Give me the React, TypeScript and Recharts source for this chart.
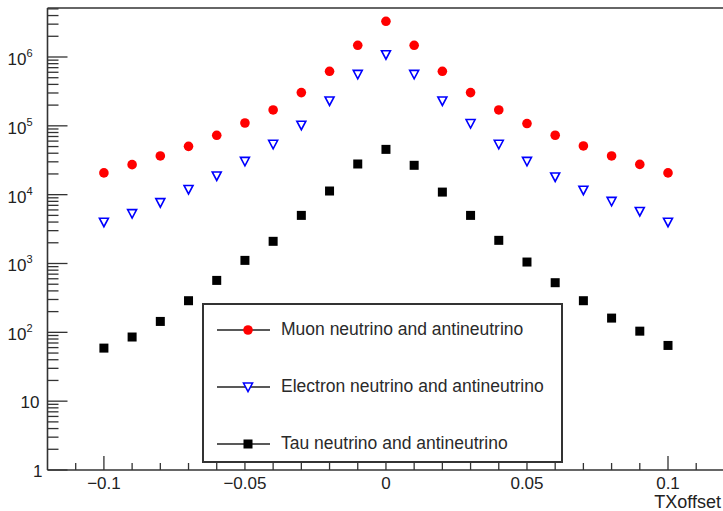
import { ScatterChart, Scatter, XAxis, YAxis, ReferenceLine, Legend, Label } from 'recharts';

const txOffset = [-0.1, -0.09, -0.08, -0.07, -0.06, -0.05, -0.04, -0.03, -0.02, -0.01, 0, 0.01, 0.02, 0.03, 0.04, 0.05, 0.06, 0.07, 0.08, 0.09, 0.1];
const muon = [2.07e4, 2.73e4, 3.65e4, 5.03e4, 7.28e4, 1.1e5, 1.7e5, 3.04e5, 6.2e5, 1.48e6, 3.3e6, 1.48e6, 6.2e5, 3.04e5, 1.7e5, 1.08e5, 7.3e4, 5.1e4, 3.65e4, 2.75e4, 2.07e4];
const electron = [3.98e3, 5.3e3, 7.65e3, 1.19e4, 1.87e4, 3.05e4, 5.4e4, 1.02e5, 2.3e5, 5.6e5, 1.08e6, 5.6e5, 2.3e5, 1.08e5, 5.4e4, 3.05e4, 1.81e4, 1.16e4, 8.0e3, 5.7e3, 3.98e3];
const tau = [59, 85.5, 144, 288, 568, 1110, 2100, 5000, 1.13e4, 2.79e4, 4.55e4, 2.67e4, 1.09e4, 5000, 2170, 1050, 526, 288, 161, 104, 64.5];

const seriesNames = ['Muon neutrino and antineutrino', 'Electron neutrino and antineutrino', 'Tau neutrino and antineutrino'];

const xTicks = [-0.11, -0.1, -0.09, -0.08, -0.07, -0.06, -0.05, -0.04, -0.03, -0.02, -0.01, 0, 0.01, 0.02, 0.03, 0.04, 0.05, 0.06, 0.07, 0.08, 0.09, 0.1, 0.11];
const xLabels: Record<string, string> = { '-0.1': '\u22120.1', '-0.05': '\u22120.05', '0': '0', '0.05': '0.05', '0.1': '0.1' };
const decades = [1, 10, 100, 1000, 1e4, 1e5, 1e6];
const minorSteps = [2, 3, 4, 5, 6, 7, 8, 9];

const yMax = 5.15e6;
const xMin = -0.12;
const xMax = 0.1195;
const yTicks = decades.flatMap((d) => [d, ...minorSteps.map((m) => m * d)]).filter((v) => v <= yMax);

const FONT = '"Liberation Sans", Arial, sans-serif';
const AXIS = '#333';

const toPoints = (ys: number[]) => txOffset.map((x, i) => ({ x, y: ys[i] }));

const Dot = ({ cx, cy }: any) => <circle cx={cx} cy={cy} r={4.8} fill="#ff0000" />;
const Tri = ({ cx, cy }: any) => (
  <polygon
    points={`${cx - 4.5},${cy - 4} ${cx + 4.5},${cy - 4} ${cx},${cy + 4.5}`}
    fill="#fff"
    stroke="#0000ff"
    strokeWidth={1.6}
  />
);
const Sq = ({ cx, cy }: any) => <rect x={cx - 4.5} y={cy - 4.5} width={9} height={9} fill="#000" />;
const shapes = [Dot, Tri, Sq];

const YTick = ({ x, y, payload }: any) => {
  const v = payload.value;
  const lg = Math.log10(v);
  const k = Math.round(lg);
  const major = Math.abs(lg - k) < 1e-6;
  let label = null;
  if (major) {
    if (k === 0) label = <text x={x - 5} y={y + 7} textAnchor="end">1</text>;
    else if (k === 1) label = <text x={x - 8} y={y + 7} textAnchor="end">10</text>;
    else
      label = (
        <text x={x - 15} y={y + 8} textAnchor="end">
          10<tspan dy={-8} fontSize={11}>{k}</tspan>
        </text>
      );
  }
  return (
    <g fontFamily={FONT} fontSize={17} fill="#222">
      <line x1={x} x2={x + (major ? 20 : 11)} y1={y} y2={y} stroke={AXIS} strokeWidth={1.3} />
      {label}
    </g>
  );
};

const XTick = ({ x, y, payload }: any) => {
  const v = payload.value;
  const major = Math.abs(v * 20 - Math.round(v * 20)) < 1e-6;
  const key = String(Math.round(v * 100) / 100);
  return (
    <g fontFamily={FONT} fontSize={17} fill="#222">
      <line x1={x} x2={x} y1={y} y2={y - (major ? 14 : 7)} stroke={AXIS} strokeWidth={1.3} />
      {major && (
        <text x={x} y={y + 19} textAnchor="middle">
          {xLabels[key]}
        </text>
      )}
    </g>
  );
};

const LegendBox = () => (
  <div style={{ position: 'relative', width: '100%', height: '100%', fontFamily: FONT }}>
    {seriesNames.map((name, i) => {
      const Shape = shapes[i];
      return (
        <div
          key={name}
          style={{ position: 'absolute', left: 11, top: i * 57 - 4, height: 57, display: 'flex', alignItems: 'center' }}
        >
          <svg width={56} height={20} style={{ display: 'block' }}>
            <line x1={2} x2={55} y1={10} y2={10} stroke="#222" strokeWidth={1.5} />
            <Shape cx={33} cy={10} />
          </svg>
          <span style={{ marginLeft: 10, fontSize: 17.5, color: '#2a2a2a', whiteSpace: 'nowrap' }}>{name}</span>
        </div>
      );
    })}
  </div>
);

export default function App() {
  return (
    <div style={{ position: 'absolute', left: 0, top: 0, background: '#fff' }}>
      <ScatterChart width={723} height={511} margin={{ top: 8, right: 0, bottom: 0, left: 0 }}>
        <XAxis
          type="number"
          dataKey="x"
          domain={[xMin, xMax]}
          allowDataOverflow
          ticks={xTicks}
          interval={0}
          tick={<XTick />}
          tickLine={false}
          tickSize={0}
          tickMargin={0}
          height={41}
          axisLine={{ stroke: AXIS, strokeWidth: 1.6 }}
        >
          <Label
            content={({ viewBox }: any) => (
              <text
                x={viewBox.x + viewBox.width - 2}
                y={viewBox.y + 38}
                textAnchor="end"
                fontFamily={FONT}
                fontSize={18}
                fill="#222"
              >
                TXoffset
              </text>
            )}
          />
        </XAxis>
        <YAxis
          type="number"
          dataKey="y"
          scale="log"
          domain={[1, yMax]}
          allowDataOverflow
          ticks={yTicks}
          interval={0}
          tick={<YTick />}
          tickLine={false}
          tickSize={0}
          tickMargin={0}
          width={47.5}
          axisLine={{ stroke: AXIS, strokeWidth: 1.6 }}
        />
        <ReferenceLine y={yMax} stroke={AXIS} strokeWidth={1.6} />
        <Legend
          layout="vertical"
          verticalAlign="middle"
          align="center"
          content={<LegendBox />}
          wrapperStyle={{
            position: 'absolute',
            left: 202,
            top: 303,
            width: 361,
            height: 160,
            border: '2px solid #333',
            boxSizing: 'border-box',
            background: '#fff',
          }}
        />
        <Scatter name={seriesNames[0]} data={toPoints(muon)} shape={<Dot />} isAnimationActive={false} />
        <Scatter name={seriesNames[1]} data={toPoints(electron)} shape={<Tri />} isAnimationActive={false} />
        <Scatter name={seriesNames[2]} data={toPoints(tau)} shape={<Sq />} isAnimationActive={false} />
      </ScatterChart>
    </div>
  );
}
